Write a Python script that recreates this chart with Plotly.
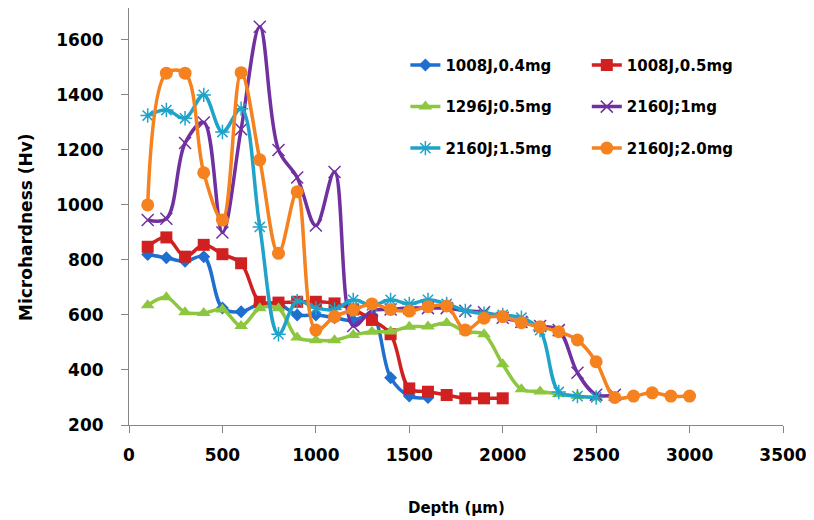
import plotly.graph_objects as go

depth_a = [100, 200, 300, 400, 500, 600, 700, 800, 900, 1000, 1100, 1200, 1300, 1400, 1500, 1600]
hv_1008_04 = [820, 808, 795, 812, 625, 612, 640, 640, 600, 600, 590, 580, 600, 372, 305, 300]

depth_b = [100, 200, 300, 400, 500, 600, 700, 800, 900, 1000, 1100, 1200, 1300, 1400, 1500, 1600, 1700, 1800, 1900, 2000]
hv_1008_05 = [848, 882, 812, 855, 821, 788, 648, 645, 648, 648, 642, 620, 582, 530, 333, 321, 309, 297, 297, 297]

depth_c = [100, 200, 300, 400, 500, 600, 700, 800, 900, 1000, 1100, 1200, 1300, 1400, 1500, 1600, 1700, 1800, 1900, 2000, 2100, 2200, 2300, 2400, 2500]
hv_1296_05 = [635, 664, 610, 607, 620, 560, 624, 624, 518, 508, 508, 527, 539, 540, 557, 558, 571, 540, 530, 421, 330, 322, 313, 305, 300]

depth_d = [100, 200, 300, 400, 500, 600, 700, 800, 900, 1000, 1100, 1200, 1300, 1400, 1500, 1600, 1700, 1800, 1900, 2000, 2100, 2200, 2300, 2400, 2500, 2600]
hv_2160_1 = [945, 950, 1225, 1300, 900, 1275, 1648, 1200, 1100, 925, 1120, 560, 615, 620, 625, 625, 625, 615, 610, 590, 575, 560, 545, 390, 310, 310]

depth_e = [100, 200, 300, 400, 500, 600, 700, 800, 900, 1000, 1100, 1200, 1300, 1400, 1500, 1600, 1700, 1800, 1900, 2000, 2100, 2200, 2300, 2400, 2500]
hv_2160_15 = [1325, 1345, 1315, 1400, 1265, 1350, 920, 530, 650, 625, 620, 655, 635, 655, 640, 655, 640, 615, 605, 600, 590, 545, 320, 305, 300]

depth_f = [100, 200, 300, 400, 500, 600, 700, 800, 900, 1000, 1100, 1200, 1300, 1400, 1500, 1600, 1700, 1800, 1900, 2000, 2100, 2200, 2300, 2400, 2500, 2600, 2700, 2800, 2900, 3000]
hv_2160_20 = [1000, 1479, 1479, 1117, 945, 1481, 1164, 824, 1048, 545, 594, 618, 640, 620, 614, 630, 633, 545, 588, 594, 572, 557, 539, 509, 430, 300, 305, 317, 305, 305]

x_ticks = [0, 500, 1000, 1500, 2000, 2500, 3000, 3500]
y_ticks = [200, 400, 600, 800, 1000, 1200, 1400, 1600]
x_title = "Depth (µm)"
y_title = "Microhardness (Hv)"

series = [
    ("1008J,0.4mg", depth_a, hv_1008_04, "#1F6FD0", "diamond", 10, "legend", False),
    ("1296J;0.5mg", depth_c, hv_1296_05, "#8DC63F", "triangle-up", 12, "legend", False),
    ("2160J;1.5mg", depth_e, hv_2160_15, "#1FA3C9", "asterisk-open", 12, "legend", True),
    ("1008J,0.5mg", depth_b, hv_1008_05, "#D02020", "square", 12, "legend2", False),
    ("2160J;1mg", depth_d, hv_2160_1, "#7030A0", "x-thin-open", 12, "legend2", True),
    ("2160J;2.0mg", depth_f, hv_2160_20, "#F5821F", "circle", 13, "legend2", False),
]
draw_order = ["1008J,0.4mg", "1008J,0.5mg", "1296J;0.5mg", "2160J;1mg", "2160J;1.5mg", "2160J;2.0mg"]

fig = go.Figure()
lookup = {s[0]: s for s in series}
for name in draw_order:
    n, x, y, c, sym, sz, leg, openm = lookup[name]
    marker = dict(symbol=sym, size=sz, color=c)
    if openm:
        marker["line"] = dict(color=c, width=1.5)
    fig.add_trace(go.Scatter(
        x=x, y=y, name=n, mode="lines+markers",
        line=dict(color=c, width=3.5, shape="spline", smoothing=1.0),
        marker=marker, legend=leg, legendgroup=n,
    ))

FAM = "DejaVu Sans"
tick_font = dict(family=FAM, size=17, color="#000000", weight="bold")
ytitle_font = dict(family=FAM, size=17, color="#000000", weight="bold")
xtitle_font = dict(family=FAM, size=15, color="#000000", weight="bold")
leg_font = dict(family=FAM, size=15, color="#000000", weight="bold")

fig.update_layout(
    width=814, height=520,
    margin=dict(l=121, r=39, t=0, b=103),
    paper_bgcolor="white", plot_bgcolor="white",
    font=dict(family=FAM, size=16, color="#000000", weight="bold"),
    xaxis=dict(
        range=[0, 3500], tickvals=x_ticks,
        showgrid=False, zeroline=False, showline=True, linecolor="#868686", linewidth=1,
        ticks="outside", ticklen=7, tickcolor="#868686", tickfont=tick_font,
        ticklabelstandoff=8, automargin=False,
    ),
    yaxis=dict(
        range=[200, 1716], tickvals=y_ticks,
        showgrid=False, zeroline=False, showline=True, linecolor="#868686", linewidth=1,
        ticks="outside", ticklen=7, tickcolor="#868686", tickfont=tick_font,
        ticklabelstandoff=14, automargin=False,
    ),
    legend=dict(x=0.4226, xanchor="left", y=0.902, yanchor="top", bgcolor="rgba(0,0,0,0)",
                tracegroupgap=19, font=leg_font),
    legend2=dict(x=0.700, xanchor="left", y=0.902, yanchor="top", bgcolor="rgba(0,0,0,0)",
                 tracegroupgap=19, font=leg_font),
    showlegend=True,
    annotations=[
        dict(text=y_title, textangle=-90, xref="paper", yref="paper", x=0, y=0.4748,
             xanchor="center", yanchor="middle", xshift=-103, showarrow=False, font=ytitle_font),
        dict(text=x_title, xref="paper", yref="paper", x=0.5, y=0,
             xanchor="center", yanchor="middle", yshift=-83, showarrow=False, font=xtitle_font),
    ],
)

fig.write_html("out.html")
